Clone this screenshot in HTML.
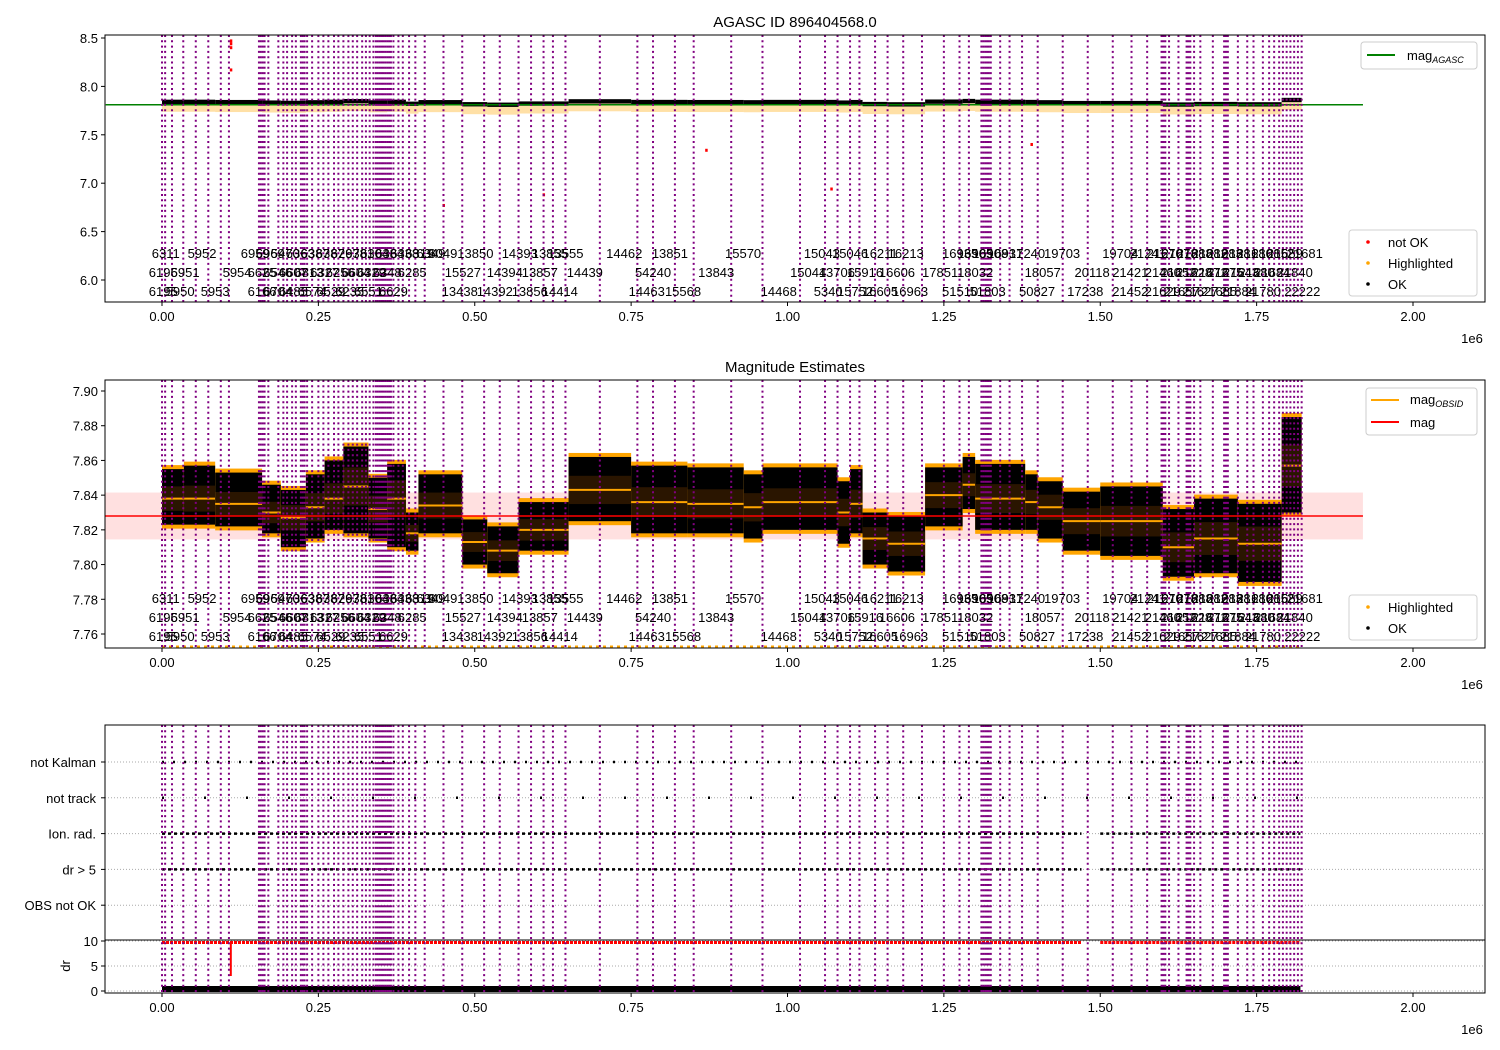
<!DOCTYPE html>
<html><head><meta charset="utf-8"><style>
body{margin:0;background:#fff;}
svg{display:block;font-family:"Liberation Sans","DejaVu Sans",sans-serif;}
text{fill:#000;}
</style></head><body>
<svg id="c" width="1500" height="1050" xmlns="http://www.w3.org/2000/svg"></svg>
<script>
// ---- data (time in units of 1e6 s) ----
const xTicks=[0,0.25,0.5,0.75,1.0,1.25,1.5,1.75,2.0];
const xTickLabels=["0.00","0.25","0.50","0.75","1.00","1.25","1.50","1.75","2.00"];
const p1Ticks=[8.5,8.0,7.5,7.0,6.5,6.0];
const p1TickLabels=["8.5","8.0","7.5","7.0","6.5","6.0"];
const p2Ticks=[7.90,7.88,7.86,7.84,7.82,7.80,7.78,7.76];
const p2TickLabels=["7.90","7.88","7.86","7.84","7.82","7.80","7.78","7.76"];
const flagCats=["not Kalman","not track","Ion. rad.","dr > 5","OBS not OK"];
const drTicks=[10,5,0];
const obsStarts=[0.000,0.005,0.016,0.034,0.054,0.074,0.094,0.107,0.155,0.158,0.161,0.164,0.170,0.186,0.194,0.200,0.208,0.214,0.222,0.225,0.228,0.232,0.240,0.250,0.258,0.266,0.275,0.282,0.290,0.298,0.305,0.312,0.320,0.326,0.332,0.338,0.342,0.345,0.348,0.351,0.354,0.357,0.360,0.363,0.366,0.370,0.378,0.385,0.395,0.405,0.420,0.450,0.480,0.515,0.540,0.570,0.590,0.610,0.625,0.645,0.700,0.760,0.785,0.820,0.850,0.910,0.960,1.020,1.060,1.080,1.100,1.115,1.140,1.160,1.185,1.215,1.250,1.275,1.290,1.310,1.313,1.316,1.319,1.322,1.325,1.340,1.355,1.375,1.400,1.440,1.480,1.520,1.550,1.575,1.598,1.601,1.604,1.610,1.625,1.638,1.641,1.644,1.650,1.660,1.680,1.698,1.701,1.704,1.720,1.735,1.745,1.760,1.770,1.778,1.786,1.792,1.798,1.804,1.810,1.816,1.822];
const segStart=[0.000,0.035,0.085,0.160,0.190,0.230,0.260,0.290,0.330,0.360,0.390,0.410,0.480,0.520,0.570,0.650,0.750,0.840,0.930,0.960,1.080,1.100,1.120,1.160,1.220,1.280,1.300,1.380,1.400,1.440,1.500,1.600,1.650,1.720,1.790];
const segEnd=[0.035,0.085,0.160,0.190,0.230,0.260,0.290,0.330,0.360,0.390,0.410,0.480,0.520,0.570,0.650,0.750,0.840,0.930,0.960,1.080,1.100,1.120,1.160,1.220,1.280,1.300,1.380,1.400,1.440,1.500,1.600,1.650,1.720,1.790,1.822];
const segTop=[7.855,7.857,7.853,7.846,7.843,7.852,7.860,7.868,7.850,7.858,7.830,7.852,7.826,7.822,7.836,7.862,7.857,7.856,7.852,7.856,7.848,7.855,7.830,7.828,7.856,7.862,7.858,7.852,7.848,7.842,7.845,7.832,7.838,7.835,7.885];
const segBot=[7.823,7.823,7.822,7.818,7.810,7.815,7.820,7.818,7.815,7.810,7.808,7.818,7.800,7.795,7.808,7.825,7.818,7.818,7.815,7.820,7.812,7.818,7.800,7.796,7.822,7.832,7.820,7.820,7.815,7.808,7.805,7.793,7.795,7.790,7.830];
const segMean=[7.838,7.838,7.835,7.830,7.827,7.833,7.838,7.845,7.832,7.838,7.818,7.834,7.813,7.808,7.820,7.843,7.836,7.835,7.833,7.836,7.830,7.835,7.815,7.812,7.840,7.846,7.838,7.836,7.833,7.825,7.825,7.810,7.815,7.812,7.857];
const magAgasc=7.81;
const magMean=7.828, magStd=0.0135;
const notOkT=[0.11,0.11,0.11,0.11,0.87,0.61,1.07,0.45,1.39];
const notOkMag=[8.47,8.44,8.40,8.17,7.34,6.88,6.94,6.77,7.40];
const lblRow0=["6311","5952","6959","6969","5470","6363","6387","6387","6297","6381","6304","6384","6338","6319","6349","6049","13850","14393","13855","13555","14462","13851","15570","15043","15046","16211","16213","16935","16905","16908","16931","17240","19703","19704","21241","21670","21678","21688","21682","21683","21681","21680","21685","21689","21681"];
const lblT0=[0.006,0.064,0.149,0.173,0.197,0.221,0.245,0.269,0.293,0.316,0.340,0.364,0.388,0.412,0.430,0.449,0.501,0.572,0.620,0.645,0.739,0.812,0.929,1.055,1.100,1.148,1.189,1.276,1.300,1.324,1.348,1.383,1.439,1.532,1.576,1.603,1.627,1.651,1.675,1.699,1.723,1.747,1.771,1.795,1.827];
const lblRow1=["6196","5951","5954","6625","6546","6607","6813","6327","6256","6604","6329","6348","6285","15527","14394","13857","14439","54240","13843","15044","13706","15916","16606","17851","18032","18057","20118","21421","21460","21652","21628","21672","21675","21643","21680","21684","21840"];
const lblT1=[0.002,0.037,0.120,0.160,0.185,0.210,0.235,0.260,0.285,0.310,0.335,0.360,0.400,0.481,0.548,0.604,0.676,0.785,0.886,1.033,1.079,1.124,1.175,1.244,1.300,1.408,1.487,1.548,1.600,1.625,1.650,1.675,1.700,1.725,1.750,1.775,1.811];
const lblRow2=["6195","5950","5953","6166","6704","6485","6574","6529","6235","6551","6629","13438","14392","13856","14414","14463","15568","14468","5340","15752","16605","16963","51510","51803","50827","17238","21452","21629","21657","21627","21685","21884","21780","22222"];
const lblT2=[0.002,0.029,0.085,0.160,0.185,0.210,0.240,0.270,0.300,0.330,0.370,0.476,0.532,0.588,0.636,0.775,0.833,0.986,1.065,1.108,1.148,1.196,1.276,1.320,1.399,1.476,1.548,1.600,1.630,1.660,1.690,1.720,1.760,1.823];
const flagStart=[0.0,0.0,0.0,1.50,0.0,1.50];
const flagEnd=[1.82,1.82,1.47,1.82,1.47,1.82];
const flagRow=[0,1,2,2,3,3];
const flagDash=["2,9","2,40","3,3","3,3","3,3","3,3"];
const drOkStart=[0.0,1.50], drOkEnd=[1.47,1.82];

// ---- scales ----
const X0=162, XS=625.5;
const xs=v=>X0+v*XS;
const y1=v=>38+(8.5-v)*96.8;
const y2=v=>391+(7.90-v)*1735.7;
const catY=i=>762+i*35.8;
const yDr=v=>991-v*5;
const NS="http://www.w3.org/2000/svg";
const svg=document.getElementById('c');
function el(tag,attrs,parent,txt){const e=document.createElementNS(NS,tag);for(const k in attrs)e.setAttribute(k,attrs[k]);if(txt!==undefined)e.textContent=txt;(parent||svg).appendChild(e);return e;}
function grp(name){const g=el('g',{});return g;}

const panels=[{t:35,b:302},{t:380,b:648},{t:725,b:993}];
const L=105,R=1485;

function xAxis(p,idx){
  const g=grp('x-axis-'+idx);
  xTicks.forEach((v,i)=>{el('line',{x1:xs(v),x2:xs(v),y1:p.b,y2:p.b+4,stroke:'#000'},g);
    const t=el('text',{x:xs(v),y:p.b+19,'font-size':13,'text-anchor':'middle'},g,xTickLabels[i]);
    
    });
  el('text',{x:1472,y:p.b+41,'font-size':13,'text-anchor':'middle'},g,'1e6');
}
function vlines(p,idx){
  const g=grp('obsid-boundaries-'+idx);
  obsStarts.forEach(v=>{const l=el('line',{x1:xs(v),x2:xs(v),y1:p.t,y2:p.b,stroke:'#800080','stroke-width':2,'stroke-dasharray':'2,3.3'},g);
    
    });
}
function labels(yTop){
  const g=grp('obsid-labels');
  [[lblRow0,lblT0,0],[lblRow1,lblT1,1],[lblRow2,lblT2,2]].forEach(([a,t,r])=>{
    a.forEach((s,i)=>{const e=el('text',{x:xs(t[i]),y:yTop+r*19,'font-size':13,'text-anchor':'middle'},g,s);
      
      });});
}
function clip(id,p){const c=el('clipPath',{id});el('rect',{x:L,y:p.t,width:R-L,height:p.b-p.t},c);}
const defs=el('defs',{});
clip('c1',panels[0]);clip('c2',panels[1]);clip('c3',panels[2]);

// ===== Panel 1 =====
{const p=panels[0];
 const t=el('text',{x:795,y:27,'font-size':15,'text-anchor':'middle'},svg,'AGASC ID 896404568.0');
 
 const g=grp('panel1-plot');g.setAttribute('clip-path','url(#c1)');
 vlines(p,1);
 segStart.forEach((s,i)=>{
   el('rect',{x:xs(s),width:xs(segEnd[i])-xs(s),y:y1(segMean[i]-0.02),height:y1(segMean[i]-0.10)-y1(segMean[i]-0.02),fill:'orange',opacity:0.35},g);
   const r=el('rect',{x:xs(s),width:xs(segEnd[i])-xs(s),y:y1(segMean[i]+0.025),height:y1(segMean[i]-0.02)-y1(segMean[i]+0.025),fill:'#000'},g);
   });
 el('line',{x1:xs(-0.09),x2:xs(1.92),y1:y1(magAgasc),y2:y1(magAgasc),stroke:'green','stroke-width':1.5},g);
 notOkT.forEach((v,i)=>{const c=el('rect',{x:xs(v)-1,y:y1(notOkMag[i])-1.5,width:2.5,height:3,fill:'red'},g);
   });
 labels(258);
 const ay=grp('y-axis-1');
 p1Ticks.forEach((v,i)=>{el('line',{x1:L-4,x2:L,y1:y1(v),y2:y1(v),stroke:'#000'},ay);el('text',{x:L-7,y:y1(v)+5,'font-size':13,'text-anchor':'end'},ay,p1TickLabels[i]);});
 xAxis(p,1);
 el('rect',{x:L,y:p.t,width:R-L,height:p.b-p.t,fill:'none',stroke:'#000'});
 const lg=grp('legend-agasc');
 el('rect',{x:1361,y:42,width:116,height:27,rx:3,fill:'#fff',stroke:'#ccc'},lg);
 el('line',{x1:1367,x2:1395,y1:55,y2:55,stroke:'green','stroke-width':2},lg);
 const tt=el('text',{x:1407,y:60,'font-size':13},lg);el('tspan',{},tt,'mag');el('tspan',{'font-size':9,dy:3,'font-style':'italic'},tt,'AGASC');
 const lg2=grp('legend-status-1');
 el('rect',{x:1349,y:230,width:128,height:66,rx:3,fill:'#fff',stroke:'#ccc',opacity:0.9},lg2);
 [['not OK','red'],['Highlighted','orange'],['OK','#000']].forEach(([s,c],i)=>{el('circle',{cx:1368,cy:242+i*21,r:1.8,fill:c},lg2);el('text',{x:1388,y:247+i*21,'font-size':13},lg2,s);});
}

// ===== Panel 2 =====
{const p=panels[1];
 const t=el('text',{x:795,y:372,'font-size':15,'text-anchor':'middle'},svg,'Magnitude Estimates');
 
 const g=grp('panel2-plot');g.setAttribute('clip-path','url(#c2)');
 el('rect',{x:L,width:xs(1.92)-L,y:y2(magMean+magStd),height:y2(magMean-magStd)-y2(magMean+magStd),fill:'rgba(255,0,0,0.12)'},g);
 vlines(p,2);
 segStart.forEach((s,i)=>{
   const x=xs(s),w=xs(segEnd[i])-xs(s);
   el('rect',{x,width:w,y:y2(segTop[i])-4,height:y2(segBot[i])-y2(segTop[i])+8,fill:'orange'},g);
   const r=el('rect',{x,width:w,y:y2(segTop[i]),height:y2(segBot[i])-y2(segTop[i]),fill:'#000'},g);
   
   const sd=(segTop[i]-segBot[i])*0.22;
   el('rect',{x,width:w,y:y2(segMean[i]+sd),height:y2(segMean[i]-sd)-y2(segMean[i]+sd),fill:'rgba(120,60,0,0.35)'},g);
   const m=el('line',{x1:x,x2:x+w,y1:y2(segMean[i]),y2:y2(segMean[i]),stroke:'orange','stroke-width':2},g);
   });
 el('line',{x1:xs(0),x2:xs(1.82),y1:p.b-1,y2:p.b-1,stroke:'orange','stroke-width':3,'stroke-dasharray':'3,4'},g);
 el('line',{x1:L,x2:xs(1.92),y1:y2(magMean),y2:y2(magMean),stroke:'red','stroke-width':1.5},g);
 labels(603);
 const ay=grp('y-axis-2');
 p2Ticks.forEach((v,i)=>{el('line',{x1:L-4,x2:L,y1:y2(v),y2:y2(v),stroke:'#000'},ay);el('text',{x:L-7,y:y2(v)+5,'font-size':13,'text-anchor':'end'},ay,p2TickLabels[i]);});
 xAxis(p,2);
 el('rect',{x:L,y:p.t,width:R-L,height:p.b-p.t,fill:'none',stroke:'#000'});
 const lg=grp('legend-mag');
 el('rect',{x:1366,y:388,width:111,height:47,rx:3,fill:'#fff',stroke:'#ccc'},lg);
 el('line',{x1:1371,x2:1399,y1:400,y2:400,stroke:'orange','stroke-width':2},lg);
 const tt=el('text',{x:1410,y:404,'font-size':13},lg);el('tspan',{},tt,'mag');el('tspan',{'font-size':9,dy:3,'font-style':'italic'},tt,'OBSID');
 el('line',{x1:1371,x2:1399,y1:422,y2:422,stroke:'red','stroke-width':2},lg);
 el('text',{x:1410,y:427,'font-size':13},lg,'mag');
 const lg2=grp('legend-status-2');
 el('rect',{x:1349,y:595,width:128,height:45,rx:3,fill:'#fff',stroke:'#ccc',opacity:0.9},lg2);
 [['Highlighted','orange'],['OK','#000']].forEach(([s,c],i)=>{el('circle',{cx:1368,cy:607+i*21,r:1.8,fill:c},lg2);el('text',{x:1388,y:612+i*21,'font-size':13},lg2,s);});
}

// ===== Panel 3 =====
{const p=panels[2];
 const g=grp('panel3-plot');g.setAttribute('clip-path','url(#c3)');
 flagCats.forEach((c,i)=>el('line',{x1:L,x2:R,y1:catY(i),y2:catY(i),stroke:'#aaa','stroke-dasharray':'1,2'},g));
 drTicks.forEach(v=>el('line',{x1:L,x2:R,y1:yDr(v),y2:yDr(v),stroke:'#aaa','stroke-dasharray':'1,2'},g));
 vlines(p,3);
 flagStart.forEach((s,i)=>{const l=el('line',{x1:xs(s),x2:xs(flagEnd[i]),y1:catY(flagRow[i]),y2:catY(flagRow[i]),stroke:'#000','stroke-width':2.5,'stroke-dasharray':flagDash[i]},g);
   });
 drOkStart.forEach((s,i)=>{
   const r=el('line',{x1:xs(s),x2:xs(drOkEnd[i]),y1:yDr(9.7),y2:yDr(9.7),stroke:'red','stroke-width':3,'stroke-dasharray':'3,1'},g);
   });
 const b=el('rect',{x:xs(0),width:xs(1.82)-xs(0),y:yDr(1),height:yDr(0)-yDr(1)+1,fill:'#000'},g);
 
 el('line',{x1:xs(0.11),x2:xs(0.11),y1:yDr(9.5),y2:yDr(3),stroke:'red','stroke-width':2},g);
 el('line',{x1:L,x2:R,y1:940,y2:940,stroke:'#000','stroke-width':1},g);
 const ay=grp('y-axis-3');
 flagCats.forEach((c,i)=>{el('line',{x1:L-4,x2:L,y1:catY(i),y2:catY(i),stroke:'#000'},ay);const t=el('text',{x:L-9,y:catY(i)+5,'font-size':13,'text-anchor':'end'},ay,c);
   });
 drTicks.forEach(v=>{el('line',{x1:L-4,x2:L,y1:yDr(v),y2:yDr(v),stroke:'#000'},ay);el('text',{x:L-7,y:yDr(v)+5,'font-size':13,'text-anchor':'end'},ay,String(v));});
 el('text',{x:0,y:0,'font-size':13,'text-anchor':'middle',transform:'translate(70,966) rotate(-90)'},ay,'dr');
 xAxis(p,3);
 el('rect',{x:L,y:p.t,width:R-L,height:p.b-p.t,fill:'none',stroke:'#000'});
}
</script>
</body></html>
